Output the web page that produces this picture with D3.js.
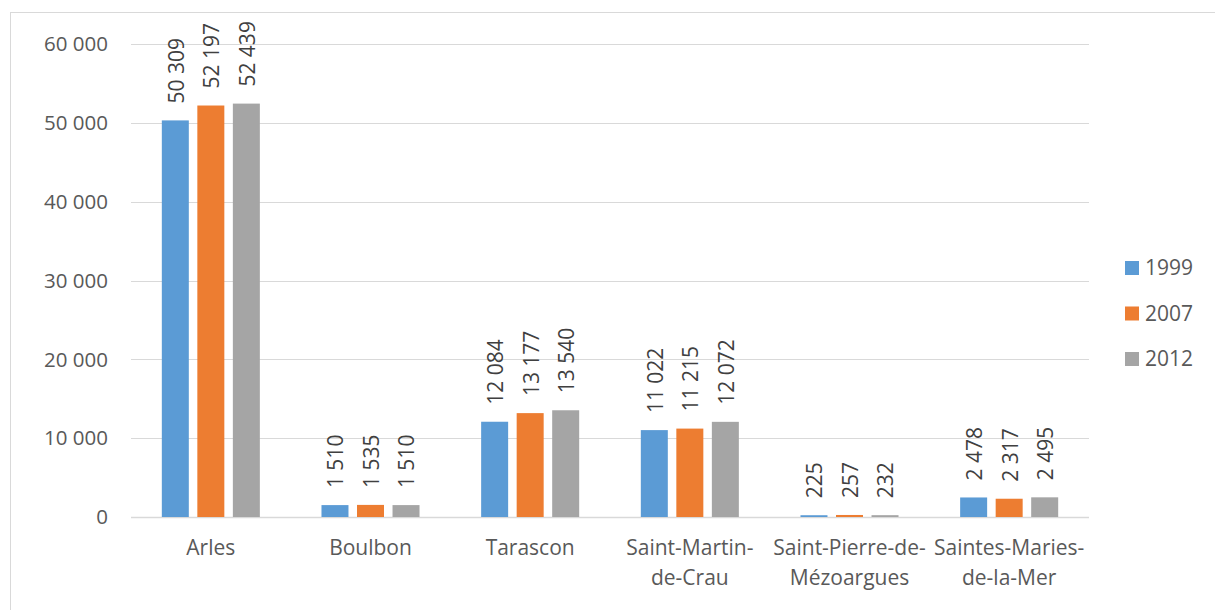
<!DOCTYPE html>
<html>
<head>
<meta charset="utf-8">
<script src="https://cdn.jsdelivr.net/npm/d3@7"></script>
<style>
  body { margin: 0; background: #fff; }
  text { font-family: "Open Sans", "Noto Sans", sans-serif; fill: #595959; }
</style>
</head>
<body>
<div id="chart"></div>
<script>
// data
communes = [["Arles"], ["Boulbon"], ["Tarascon"], ["Saint-Martin-", "de-Crau"],
            ["Saint-Pierre-de-", "Mézoargues"], ["Saintes-Maries-", "de-la-Mer"]];
years = ["1999", "2007", "2012"];
pop1999 = [50309, 1510, 12084, 11022, 225, 2478];
pop2007 = [52197, 1535, 13177, 11215, 257, 2317];
pop2012 = [52439, 1510, 13540, 12072, 232, 2495];
yTicks = [0, 10000, 20000, 30000, 40000, 50000, 60000];
colors = ["#5B9BD5", "#ED7D31", "#A5A5A5"];

series = [pop1999, pop2007, pop2012];
names = communes.map(c => c.join(""));

width = 1215;
height = 610;
plotLeft = 131;
plotRight = 1089;
plotTop = 44;
plotBottom = 517;

fmt = v => d3.format(",")(v).replace(/,/g, " ");

svg = d3.select("#chart").append("svg")
    .attr("width", width)
    .attr("height", height);

// chart frame (top + left edges only visible)
svg.append("rect")
    .attr("x", 10.5).attr("y", 12.5)
    .attr("width", 1220).attr("height", 620)
    .attr("fill", "none")
    .attr("stroke", "#d9d9d9");

// Scales
xScale = d3.scaleBand().domain(names).range([plotLeft, plotRight]).paddingInner(0.386).paddingOuter(0.193);
xInner = d3.scaleBand().domain(years).range([0, xScale.bandwidth()]).paddingInner(0.24);
yScale = d3.scaleLinear().domain([0, 60000]).range([plotBottom, plotTop]);

// gridlines
svg.append("g").selectAll("line")
    .data(yTicks).enter()
    .append("line")
    .attr("x1", plotLeft).attr("x2", plotRight)
    .attr("y1", d => Math.round(yScale(d)) + 0.5)
    .attr("y2", d => Math.round(yScale(d)) + 0.5)
    .attr("stroke", "#d9d9d9")
    .attr("stroke-width", d => d == 0 ? 1.5 : 1);

// y tick labels
svg.append("g").selectAll("text")
    .data(yTicks).enter()
    .append("text")
    .attr("x", 108)
    .attr("y", d => yScale(d))
    .attr("dy", "0.35em")
    .attr("text-anchor", "end")
    .style("font-size", "20.5px")
    .text(d => fmt(d));

// bars
groups = svg.append("g").selectAll("g")
    .data(years).enter()
    .append("g")
    .attr("fill", (d, i) => colors[i]);

groups.selectAll("rect")
    .data((y, i) => series[i].map((v, j) => ({ year: y, name: names[j], v: v }))).enter()
    .append("rect")
    .attr("x", d => xScale(d.name) + xInner(d.year))
    .attr("y", d => yScale(d.v))
    .attr("width", xInner.bandwidth())
    .attr("height", d => plotBottom - yScale(d.v));

// value labels, rotated
groups.selectAll("text")
    .data((y, i) => series[i].map((v, j) => ({ year: y, name: names[j], v: v }))).enter()
    .append("text")
    .attr("transform", d => {
        cx = xScale(d.name) + xInner(d.year) + xInner.bandwidth() / 2;
        return `translate(${cx + 1}, ${yScale(d.v) - 17}) rotate(-90)`;
    })
    .attr("dy", "0.35em")
    .attr("text-anchor", "start")
    .style("font-size", "21px")
    .style("fill", "#404040")
    .text(d => fmt(d.v));

// category labels
cats = svg.append("g").selectAll("text")
    .data(communes).enter()
    .append("text")
    .attr("x", (d, i) => xScale(names[i]) + xScale.bandwidth() / 2)
    .attr("y", 555)
    .attr("text-anchor", "middle")
    .style("font-size", "21px");

cats.selectAll("tspan")
    .data(d => d).enter()
    .append("tspan")
    .attr("x", function() { return d3.select(this.parentNode).attr("x"); })
    .attr("dy", (d, i) => i == 0 ? 0 : 30)
    .text(d => d);

// legend
legend = svg.append("g").selectAll("g")
    .data(years).enter()
    .append("g")
    .attr("transform", (d, i) => `translate(1125, ${268 + i * 45.5})`);

legend.append("rect")
    .attr("x", 0).attr("y", -7)
    .attr("width", 14).attr("height", 14)
    .attr("fill", (d, i) => colors[i]);

legend.append("text")
    .attr("x", 20)
    .attr("dy", "0.35em")
    .style("font-size", "21px")
    .text(d => d);
</script>
</body>
</html>
